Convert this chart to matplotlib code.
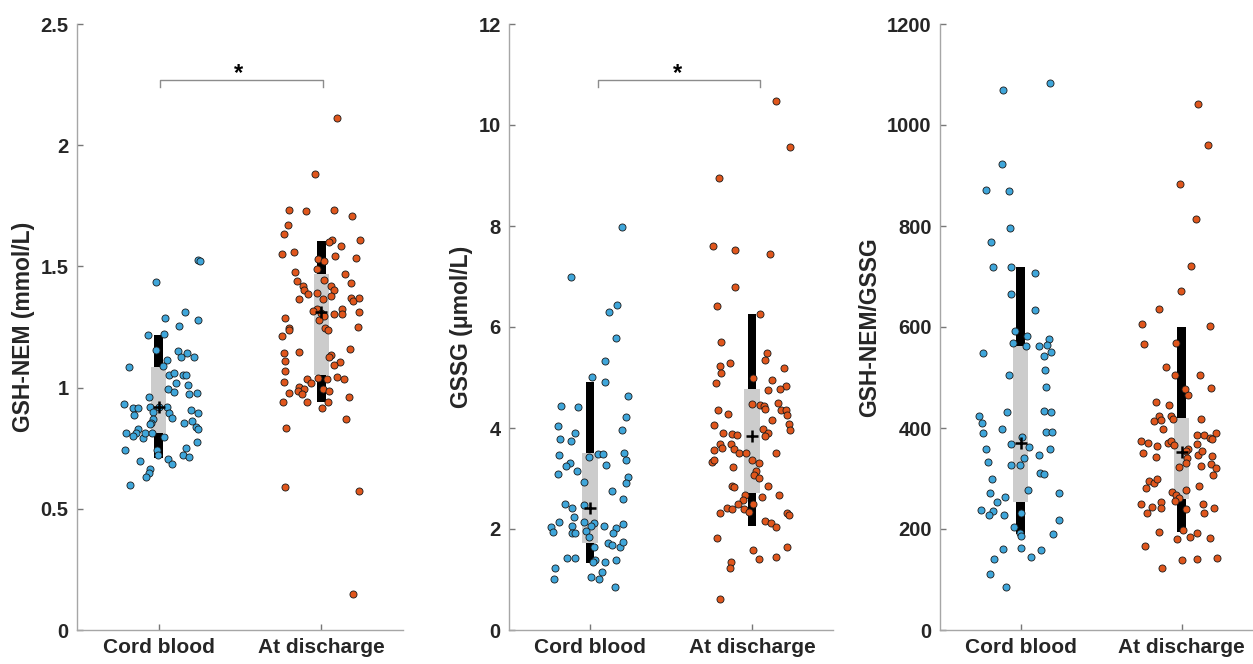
import matplotlib
matplotlib.use('Agg')
import matplotlib.pyplot as plt
import numpy as np

plt.rcParams['font.family'] = ['Liberation Sans', 'DejaVu Sans']
plt.rcParams['font.weight'] = 'bold'

groups = ['Cord blood', 'At discharge']

# ---- GSH-NEM (mmol/L) ----
gsh_cord = [1.434, 1.313, 1.288, 1.279, 1.255, 1.218, 1.221, 1.155, 1.150, 1.127,
            1.141, 1.127, 1.114, 1.090, 1.084, 1.053, 1.061, 1.052, 1.051, 1.020,
            1.012, 0.995, 0.982, 0.974, 0.976, 0.962, 0.931, 0.917, 0.917, 0.920,
            0.921, 0.919, 0.899, 0.886, 0.894, 0.875, 0.908, 0.896, 0.870, 0.853,
            0.849, 0.853, 0.863, 0.839, 0.828, 0.814, 0.830, 0.814, 0.802, 0.791,
            0.811, 0.811, 0.797, 0.777, 0.744, 0.743, 0.722, 0.750, 0.722, 0.715,
            0.707, 0.698, 0.684, 0.663, 0.649, 0.632, 0.598, 1.526, 1.521]
gsh_cord_jit = [-0.014, 0.160, 0.039, 0.241, 0.125, -0.067, 0.035, -0.016, 0.117, 0.141,
                0.176, 0.219, 0.053, 0.029, -0.182, 0.067, 0.096, 0.149, 0.170, 0.109,
                0.178, 0.057, 0.096, 0.190, 0.235, -0.060, -0.210, -0.155, -0.127, -0.053,
                0.002, 0.055, -0.031, -0.153, 0.067, 0.084, 0.198, 0.241, -0.033, -0.043,
                -0.055, 0.155, 0.204, 0.229, 0.241, -0.202, -0.124, -0.135, -0.158, -0.098,
                -0.080, -0.039, 0.033, 0.237, -0.206, -0.008, -0.004, 0.168, 0.149, 0.190,
                0.060, -0.114, 0.082, -0.053, -0.060, -0.076, -0.176, 0.240, 0.252]
gsh_dis = [2.113, 1.880, 1.731, 1.730, 1.731, 1.707, 1.671, 1.635, 1.608, 1.601,
           1.608, 1.585, 1.550, 1.558, 1.544, 1.535, 1.532, 1.521, 1.488, 1.469,
           1.478, 1.441, 1.443, 1.430, 1.419, 1.403, 1.386, 1.420, 1.403, 1.392,
           1.378, 1.364, 1.364, 1.368, 1.357, 1.370, 1.312, 1.326, 1.317, 1.307,
           1.295, 1.279, 1.305, 1.323, 1.302, 1.287, 1.247, 1.238, 1.214, 1.246,
           1.239, 1.250, 1.144, 1.148, 1.159, 1.110, 1.134, 1.127, 1.107, 1.093,
           1.070, 1.022, 1.034, 1.018, 1.040, 1.035, 1.042, 1.037, 1.004, 0.994,
           0.987, 0.972, 0.977, 0.995, 0.986, 0.942, 0.939, 0.941, 0.962, 0.916,
           0.870, 0.835, 0.591, 0.575, 0.147]
gsh_dis_jit = [0.098, -0.037, -0.198, -0.096, 0.074, 0.188, -0.207, -0.233, 0.063, 0.049,
               0.239, 0.121, -0.245, -0.167, 0.080, 0.213, -0.020, 0.018, -0.025, 0.143,
               -0.161, -0.152, 0.018, 0.184, -0.115, -0.109, -0.084, 0.057, 0.075, -0.026,
               0.061, -0.137, 0.010, 0.184, 0.194, 0.231, 0.229, -0.026, -0.053, -0.002,
               0.014, -0.018, 0.075, 0.125, 0.123, -0.223, -0.198, -0.201, -0.244, 0.023,
               0.041, 0.221, -0.233, -0.139, 0.174, -0.223, 0.061, 0.049, 0.115, 0.075,
               -0.223, -0.227, -0.086, -0.066, -0.020, 0.031, 0.098, 0.141, -0.137, -0.106,
               -0.145, -0.121, -0.198, 0.010, 0.049, -0.237, -0.088, 0.039, 0.166, 0.004,
               0.149, -0.219, -0.223, 0.229, 0.192]

# ---- GSSG (umol/L) ----
gssg_cord = [7.974, 6.984, 6.436, 6.291, 5.789, 5.327, 5.016, 4.917, 4.628, 4.436,
             4.416, 4.218, 4.046, 3.960, 3.895, 3.776, 3.743, 3.459, 3.420, 3.491,
             3.491, 3.511, 3.366, 3.313, 3.248, 3.273, 3.149, 3.089, 3.024, 2.911,
             2.937, 2.752, 2.588, 2.489, 2.410, 2.475, 2.244, 2.145, 2.139, 2.113,
             2.059, 2.046, 1.941, 2.066, 1.927, 1.927, 1.966, 2.053, 2.026, 2.093,
             1.915, 1.848, 1.717, 1.683, 1.637, 1.736, 1.650, 1.432, 1.420, 1.386,
             1.340, 1.340, 1.386, 1.222, 1.016, 1.044, 1.004, 1.143, 0.857]
gssg_cord_jit = [0.196, -0.117, 0.169, 0.117, 0.159, 0.095, 0.014, 0.093, 0.233, -0.181,
                 -0.072, 0.222, -0.198, 0.198, -0.091, -0.185, -0.119, -0.193, -0.004, 0.051,
                 0.082, 0.208, 0.222, -0.125, -0.148, 0.099, -0.082, -0.196, 0.233, 0.220,
                 -0.035, 0.136, 0.202, -0.152, -0.109, -0.037, -0.097, -0.190, -0.035, 0.027,
                 0.006, -0.241, -0.228, -0.111, -0.109, -0.093, -0.023, 0.088, 0.159, 0.202,
                 0.142, -0.006, 0.109, 0.138, 0.187, 0.204, 0.027, -0.142, -0.094, 0.033,
                 0.019, 0.091, 0.160, -0.218, -0.222, 0.008, 0.057, 0.074, 0.156]
gssg_dis = [10.47, 9.57, 8.95, 7.60, 7.52, 7.44, 6.80, 6.41, 6.26, 5.71,
            5.48, 5.35, 5.28, 5.23, 5.09, 5.18, 4.89, 4.99, 4.96, 4.83,
            4.78, 4.76, 4.35, 4.28, 4.48, 4.46, 4.44, 4.37, 4.49, 4.35,
            4.35, 4.25, 4.15, 4.08, 3.97, 4.06, 3.91, 3.89, 3.86, 3.98,
            3.91, 3.84, 3.68, 3.56, 3.60, 3.68, 3.58, 3.51, 3.50, 3.50,
            3.32, 3.37, 3.36, 3.30, 3.22, 3.14, 3.07, 3.01, 2.85, 2.83,
            2.86, 2.67, 2.67, 2.64, 2.57, 2.50, 2.49, 2.42, 2.39, 2.32,
            2.40, 2.34, 2.32, 2.28, 2.16, 2.12, 2.04, 1.82, 1.59, 1.65,
            1.41, 1.45, 1.34, 1.23, 0.61]
gssg_dis_jit = [0.148, 0.235, -0.204, -0.243, -0.105, 0.113, -0.103, -0.214, 0.051, -0.193,
                0.091, 0.078, -0.134, -0.196, -0.189, 0.199, -0.224, 0.008, 0.125, 0.212,
                0.171, 0.099, -0.210, -0.150, 0.000, 0.049, 0.074, 0.082, 0.160, 0.177,
                0.210, 0.216, 0.125, 0.228, 0.237, -0.237, -0.177, -0.121, -0.095, 0.070,
                0.101, 0.080, -0.198, -0.235, -0.183, -0.128, -0.109, -0.080, -0.035, 0.150,
                -0.245, -0.235, -0.002, 0.041, -0.117, 0.023, 0.012, 0.041, -0.121, -0.109,
                0.099, 0.169, -0.041, 0.060, -0.056, -0.088, 0.006, -0.152, -0.125, -0.198,
                -0.048, -0.017, 0.216, 0.230, 0.078, 0.115, 0.150, -0.218, 0.004, 0.218,
                0.045, 0.146, -0.130, -0.138, -0.196]

# ---- GSH-NEM/GSSG ----
ratio_cord = [1070, 1083, 923, 872, 870, 797, 769, 718, 718, 706,
              666, 634, 593, 583, 569, 562, 577, 565, 562, 550,
              543, 548, 514, 504, 482, 432, 434, 432, 424, 410,
              399, 390, 392, 393, 382, 369, 363, 359, 358, 346,
              333, 340, 326, 326, 310, 309, 300, 277, 272, 271,
              264, 254, 237, 235, 228, 232, 227, 218, 203, 193,
              187, 191, 161, 162, 158, 141, 144, 111, 86]
ratio_cord_jit = [-0.107, 0.183, -0.113, -0.214, -0.070, -0.064, -0.185, -0.171, -0.056, 0.091,
                  -0.056, 0.093, -0.037, 0.043, -0.047, 0.033, 0.175, 0.167, 0.113, 0.191,
                  0.146, -0.235, 0.154, -0.072, 0.156, -0.082, 0.146, 0.191, -0.255, -0.241,
                  -0.115, -0.235, 0.160, 0.198, 0.008, -0.062, 0.051, 0.185, -0.214, 0.115,
                  -0.204, 0.019, -0.058, -0.004, 0.123, 0.144, -0.179, 0.049, -0.189, 0.241,
                  -0.099, -0.146, -0.247, -0.173, -0.193, 0.002, -0.103, 0.239, -0.039, -0.002,
                  0.006, 0.204, -0.107, 0.000, 0.128, -0.167, 0.066, -0.189, -0.093]
ratio_dis = [1041, 960, 883, 813, 720, 671, 636, 606, 602, 566,
             568, 520, 505, 504, 465, 477, 480, 451, 446, 413,
             424, 416, 424, 417, 399, 417, 375, 371, 365, 371,
             375, 367, 386, 386, 381, 390, 378, 368, 359, 354,
             351, 342, 347, 354, 344, 340, 323, 330, 325, 329,
             321, 306, 295, 292, 300, 285, 277, 281, 273, 267,
             262, 243, 256, 253, 250, 232, 242, 239, 249, 242,
             231, 195, 199, 193, 185, 180, 182, 166, 138, 141,
             143, 122]
ratio_dis_jit = [0.105, 0.163, -0.012, 0.088, 0.058, -0.004, -0.138, -0.245, 0.177, -0.235,
                 -0.035, -0.097, -0.039, 0.117, 0.041, 0.021, 0.185, -0.158, -0.076, -0.169,
                 -0.138, -0.128, -0.064, -0.051, -0.117, 0.123, -0.251, -0.210, -0.154, -0.086,
                 -0.066, -0.045, 0.099, 0.140, 0.175, 0.216, 0.191, 0.099, 0.043, 0.027,
                 -0.237, -0.158, 0.105, 0.130, 0.187, 0.033, -0.014, 0.027, 0.123, 0.183,
                 0.216, 0.195, -0.204, -0.169, -0.150, 0.111, 0.027, -0.220, -0.060, -0.035,
                 -0.014, -0.181, -0.039, -0.125, -0.251, -0.214, -0.125, 0.027, 0.136, 0.204,
                 0.142, -0.138, 0.008, 0.095, 0.051, -0.031, 0.177, -0.224, 0.004, 0.095,
                 0.218, -0.121]

# summary bars per group: (outer low, outer high), (inner low, inner high), mean
gsh_outer = [(0.708, 1.217), (0.942, 1.605)]
gsh_inner = [(0.811, 1.086), (1.052, 1.470)]
gsh_mean = [0.92, 1.31]
gssg_outer = [(1.333, 4.917), (2.05, 6.26)]
gssg_inner = [(1.729, 3.50), (2.71, 4.77)]
gssg_mean = [2.41, 3.85]
ratio_outer = [(191, 718), (195, 600)]
ratio_inner = [(253, 562), (260, 420)]
ratio_mean = [371, 352]

panels = [
    dict(cord=gsh_cord, cj=gsh_cord_jit, dis=gsh_dis, dj=gsh_dis_jit,
         outer=gsh_outer, inner=gsh_inner, mean=gsh_mean,
         ylabel='GSH-NEM (mmol/L)', ylim=(0, 2.5), ticks=[0, 0.5, 1, 1.5, 2, 2.5],
         ticklabels=['0', '0.5', '1', '1.5', '2', '2.5'],
         sig=(1.01, 2.01, 2.24, 2.27, 1.49), pos=[77, 326]),
    dict(cord=gssg_cord, cj=gssg_cord_jit, dis=gssg_dis, dj=gssg_dis_jit,
         outer=gssg_outer, inner=gssg_inner, mean=gssg_mean,
         ylabel='GSSG (\u03bcmol/L)', ylim=(0, 12), ticks=[0, 2, 4, 6, 8, 10, 12],
         ticklabels=['0', '2', '4', '6', '8', '10', '12'],
         sig=(1.05, 2.05, 10.76, 10.9, 1.54), pos=[509, 324]),
    dict(cord=ratio_cord, cj=ratio_cord_jit, dis=ratio_dis, dj=ratio_dis_jit,
         outer=ratio_outer, inner=ratio_inner, mean=ratio_mean,
         ylabel='GSH-NEM/GSSG', ylim=(0, 1200), ticks=[0, 200, 400, 600, 800, 1000, 1200],
         ticklabels=['0', '200', '400', '600', '800', '1000', '1200'],
         sig=None, pos=[940, 322]),
]

W, H = 1253, 664
fig = plt.figure(figsize=(W / 100, H / 100), dpi=100)

blue = '#3fa6da'
orange = '#e0561c'
axis_col = '#a6a6a6'
text_col = '#262626'

for p in panels:
    left, width = p['pos']
    ax = fig.add_axes([left / W, (H - 630) / H, width / W, 606 / H])

    # bars: outer (black) then inner (gray)
    for i in range(2):
        lo, hi = p['outer'][i]
        ax.bar(i + 1, hi - lo, width=0.05, bottom=lo, color='black', zorder=1)
        lo, hi = p['inner'][i]
        ax.bar(i + 1, hi - lo, width=0.095, bottom=lo, color='#cccccc', zorder=2)

    ax.scatter(1 + np.array(p['cj']), p['cord'], s=26, c=blue,
               edgecolors='#1a1a1a', linewidths=0.6, zorder=3)
    ax.scatter(2 + np.array(p['dj']), p['dis'], s=26, c=orange,
               edgecolors='#1a1a1a', linewidths=0.6, zorder=3)
    ax.plot([1, 2], p['mean'], ls='none', marker='+', ms=8, mew=1.8,
            color='black', zorder=4)

    if p['sig'] is not None:
        x1, x2, y0, y1, xs = p['sig']
        ax.plot([x1, x1, x2, x2], [y0, y1, y1, y0], color='#8c8c8c', lw=1, zorder=2)
        ax.annotate('*', (xs, y1), xytext=(0, -4), textcoords='offset points',
                    ha='center', va='bottom', fontsize=17, fontweight='bold',
                    color='black')

    ax.set_xlim(0.5, 2.5)
    ax.set_ylim(*p['ylim'])
    ax.set_xticks([1, 2])
    ax.set_xticklabels(groups)
    ax.set_yticks(p['ticks'])
    ax.set_yticklabels(p['ticklabels'])
    ax.set_ylabel(p['ylabel'], fontsize=16.5, fontweight='bold',
                  color=text_col, labelpad=4)

    for side in ['top', 'right']:
        ax.spines[side].set_visible(False)
    for side in ['left', 'bottom']:
        ax.spines[side].set_color(axis_col)
        ax.spines[side].set_linewidth(1.0)
    ax.tick_params(direction='in', length=4, width=1, color='#777777',
                   labelsize=14.5, labelcolor=text_col, pad=6)
    ax.tick_params(axis='x', labelsize=15)
    for lab in ax.get_xticklabels() + ax.get_yticklabels():
        lab.set_fontweight('bold')

fig.savefig('out.png', dpi=100)
